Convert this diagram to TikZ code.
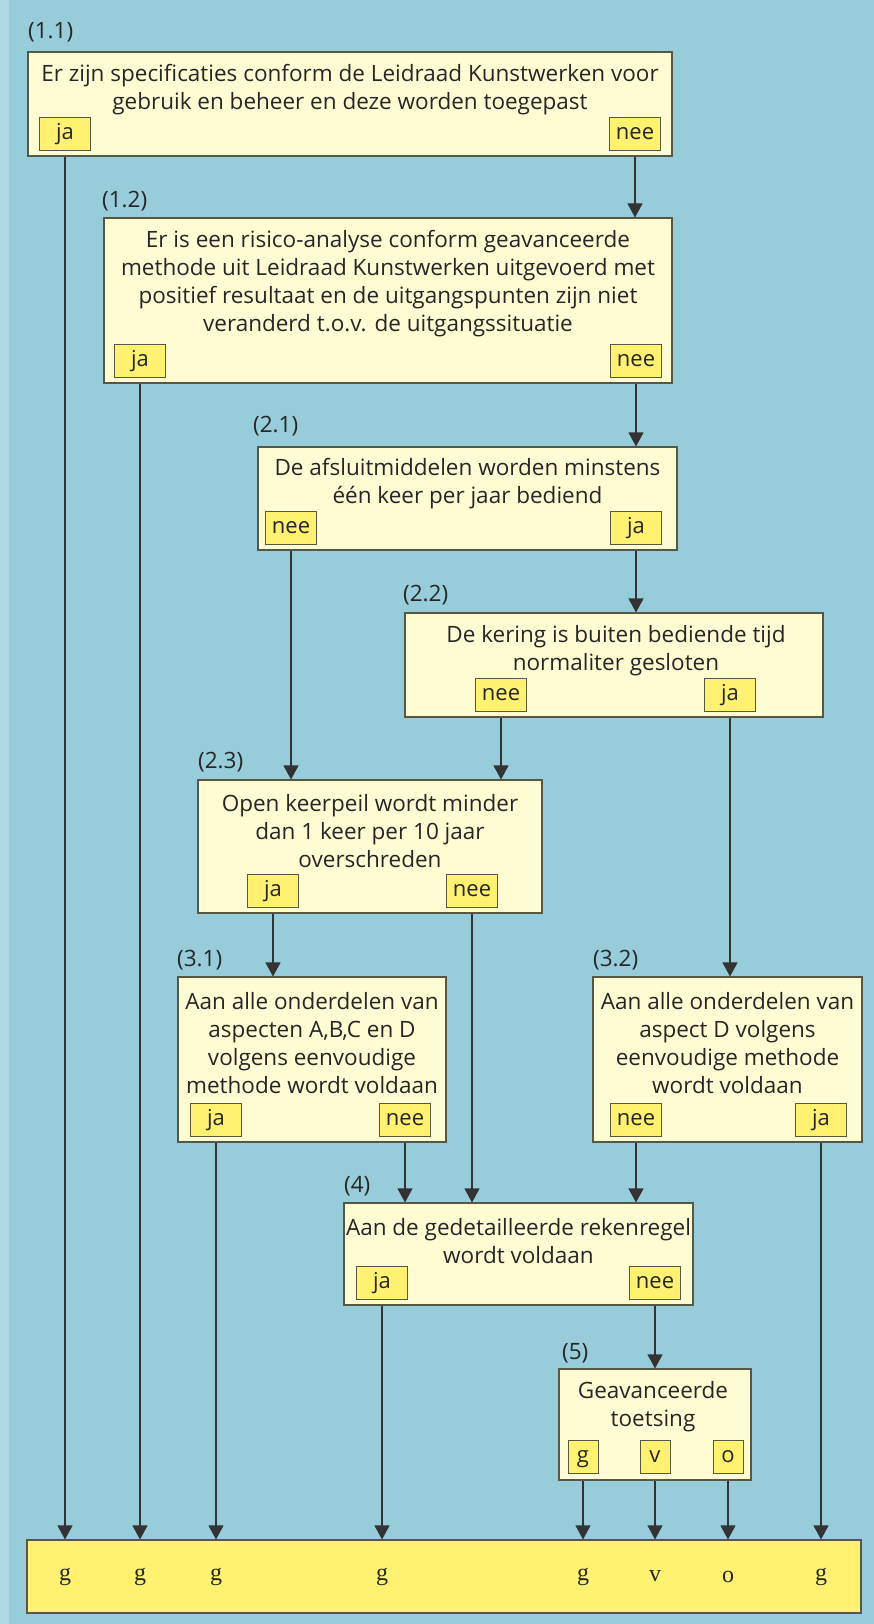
\documentclass[tikz,border=0pt]{standalone}
\usepackage{fontspec}
\setmainfont{Open Sans}
\newfontfamily\letterfont{Liberation Serif}
\usepackage{tikz}
\definecolor{water}{RGB}{151, 204, 218}
\definecolor{waterlight}{RGB}{174, 217, 228}
\definecolor{paper}{RGB}{255, 252, 212}
\definecolor{marker}{RGB}{255, 242, 112}
\definecolor{edge}{RGB}{88, 88, 66}
\usetikzlibrary{arrows.meta, positioning, calc}

\begin{document}
\begin{tikzpicture}[x=1pt, y=-1pt,
    question/.style={draw=edge, line width=1.1pt, fill=paper, inner sep=0pt},
    qtext/.style={align=center, inner sep=0pt, text=black!85,
                  font=\fontsize{22.5}{28}\selectfont},
    answer/.style={draw=edge, line width=1pt, fill=marker, inner sep=0pt,
                   minimum width=51pt, minimum height=33pt, text=black!85,
                   text height=15pt, text depth=4pt, font=\fontsize{22}{24}\selectfont},
    small/.style={answer, minimum width=30pt},
    stepnr/.style={anchor=west, inner sep=0pt, text=black!85, font=\fontsize{22.5}{24}\selectfont},
    result/.style={text=black!85, font=\letterfont\fontsize{24}{24}\selectfont},
    arr/.style={-{Triangle[width=15pt, length=14pt]}, line width=1.1pt, black!80}
]
    % Background
    \fill[water] (0,0) rectangle (874,1624);
    \fill[waterlight] (0,0) rectangle (9,1624);

    % (1.1)
    \node[stepnr] (s11) at (28,32) {(1.1)};
    \node[question, minimum width=644pt, minimum height=104pt] (q11) at (350,104) {};
    \node[qtext] (t11) at (350,90) {Er zijn specificaties conform de Leidraad Kunstwerken voor\\
        gebruik en beheer en deze worden toegepast};
    \node[answer] (ja11) at (65,134) {ja};
    \node[answer] (nee11) at (635,134) {nee};

    % (1.2)
    \node[stepnr] (s12) at (102,201) {(1.2)};
    \node[question, minimum width=568pt, minimum height=165pt] (q12) at (388,300.5) {};
    \node[qtext] (t12) at (388,284) {Er is een risico-analyse conform geavanceerde\\
        methode uit Leidraad Kunstwerken uitgevoerd met\\
        positief resultaat en de uitgangspunten zijn niet\\
        veranderd t.o.v. de uitgangssituatie};
    \node[answer] (ja12) at (140,361) {ja};
    \node[answer] (nee12) at (636,361) {nee};

    % (2.1)
    \node[stepnr] (s21) at (253,426) {(2.1)};
    \node[question, minimum width=419pt, minimum height=103pt] (q21) at (467.5,498.5) {};
    \node[qtext] (t21) at (467.5,484) {De afsluitmiddelen worden minstens\\
        één keer per jaar bediend};
    \node[answer] (nee21) at (291,528) {nee};
    \node[answer] (ja21) at (636,528) {ja};

    % (2.2)
    \node[stepnr] (s22) at (403,595) {(2.2)};
    \node[question, minimum width=418pt, minimum height=104pt] (q22) at (614,665) {};
    \node[qtext] (t22) at (616,651) {De kering is buiten bediende tijd\\
        normaliter gesloten};
    \node[answer] (nee22) at (501,695) {nee};
    \node[answer] (ja22) at (730,695) {ja};

    % (2.3)
    \node[stepnr] (s23) at (198,762) {(2.3)};
    \node[question, minimum width=344pt, minimum height=133pt] (q23) at (370,846.5) {};
    \node[qtext] (t23) at (370,831) {Open keerpeil wordt minder\\
        dan 1 keer per 10 jaar\\
        overschreden};
    \node[answer] (ja23) at (273,891) {ja};
    \node[answer] (nee23) at (472,891) {nee};

    % (3.1)
    \node[stepnr] (s31) at (177,960) {(3.1)};
    \node[question, minimum width=268pt, minimum height=165pt] (q31) at (312,1059.5) {};
    \node[qtext] (t31) at (312,1043) {Aan alle onderdelen van\\
        aspecten A,B,C en D\\
        volgens eenvoudige\\
        methode wordt voldaan};
    \node[answer] (ja31) at (216,1120) {ja};
    \node[answer] (nee31) at (405,1120) {nee};

    % (3.2)
    \node[stepnr] (s32) at (593,960) {(3.2)};
    \node[question, minimum width=269pt, minimum height=165pt] (q32) at (727.5,1059.5) {};
    \node[qtext] (t32) at (727.5,1043) {Aan alle onderdelen van\\
        aspect D volgens\\
        eenvoudige methode\\
        wordt voldaan};
    \node[answer] (nee32) at (636,1120) {nee};
    \node[answer] (ja32) at (821,1120) {ja};

    % (4)
    \node[stepnr] (s4) at (344,1186) {(4)};
    \node[question, minimum width=349pt, minimum height=102pt] (q4) at (518.5,1254) {};
    \node[qtext] (t4) at (518.5,1241) {Aan de gedetailleerde rekenregel\\
        wordt voldaan};
    \node[answer] (ja4) at (382,1283) {ja};
    \node[answer] (nee4) at (655,1283) {nee};

    % (5)
    \node[stepnr] (s5) at (562,1353) {(5)};
    \node[question, minimum width=192pt, minimum height=111pt] (q5) at (655,1424.5) {};
    \node[qtext] (t5) at (653,1407) {Geavanceerde\\
        toetsing};
    \node[small] (g5) at (583,1457) {g};
    \node[small] (v5) at (655,1457) {v};
    \node[small] (o5) at (728,1457) {o};

    % Outcome bar
    \node[question, fill=marker, minimum width=834pt, minimum height=73pt] (out) at (444,1576.5) {};
    \node[result] (r1) at (ja11 |- out) {g};
    \node[result] (r2) at (ja12 |- out) {g};
    \node[result] (r3) at (ja31 |- out) {g};
    \node[result] (r4) at (ja4 |- out) {g};
    \node[result] (r5) at (g5 |- out) {g};
    \node[result] (r6) at (v5 |- out) {v};
    \node[result] (r7) at (o5 |- out) {o};
    \node[result] (r8) at (ja32 |- out) {g};

    % Arrows
    \draw[arr] (ja11 |- q11.south) -- (ja11 |- out.north);
    \draw[arr] (nee11 |- q11.south) -- (nee11 |- q12.north);
    \draw[arr] (ja12 |- q12.south) -- (ja12 |- out.north);
    \draw[arr] (nee12 |- q12.south) -- (nee12 |- q21.north);
    \draw[arr] (nee21 |- q21.south) -- (nee21 |- q23.north);
    \draw[arr] (ja21 |- q21.south) -- (ja21 |- q22.north);
    \draw[arr] (nee22 |- q22.south) -- (nee22 |- q23.north);
    \draw[arr] (ja22 |- q22.south) -- (ja22 |- q32.north);
    \draw[arr] (ja23 |- q23.south) -- (ja23 |- q31.north);
    \draw[arr] (nee23 |- q23.south) -- (nee23 |- q4.north);
    \draw[arr] (ja31 |- q31.south) -- (ja31 |- out.north);
    \draw[arr] (nee31 |- q31.south) -- (nee31 |- q4.north);
    \draw[arr] (nee32 |- q32.south) -- (nee32 |- q4.north);
    \draw[arr] (ja32 |- q32.south) -- (ja32 |- out.north);
    \draw[arr] (ja4 |- q4.south) -- (ja4 |- out.north);
    \draw[arr] (nee4 |- q4.south) -- (nee4 |- q5.north);
    \draw[arr] (g5 |- q5.south) -- (g5 |- out.north);
    \draw[arr] (v5 |- q5.south) -- (v5 |- out.north);
    \draw[arr] (o5 |- q5.south) -- (o5 |- out.north);
\end{tikzpicture}
\end{document}
